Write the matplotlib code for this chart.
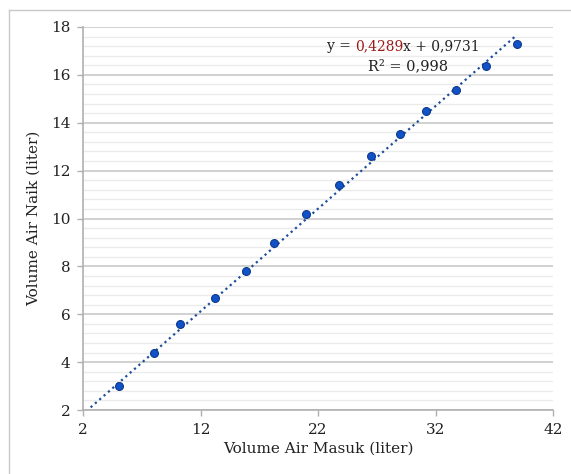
import matplotlib
matplotlib.use("Agg")
import matplotlib.pyplot as plt
import numpy as np
from matplotlib.ticker import MultipleLocator

x_vals = [5.06, 8.04, 10.26, 13.23, 15.87, 18.26, 21.0, 23.8, 26.55, 28.98, 31.2, 33.75, 36.3, 38.94]
y_vals = [3.0, 4.38, 5.6, 6.68, 7.8, 8.98, 10.2, 11.4, 12.6, 13.53, 14.5, 15.37, 16.35, 17.3]
slope = 0.4289
intercept = 0.9731
r2 = 0.998
trend_start = 2.65
x_ticks = [2, 12, 22, 32, 42]
y_ticks = [2, 4, 6, 8, 10, 12, 14, 16, 18]

plt.rcParams['font.family'] = ['DejaVu Serif']
fig = plt.figure(figsize=(5.71, 4.74), dpi=100)
ax = fig.add_axes([83/571, 1-410/474, (553-83)/571, (410-27)/474])

grey_major = '#c9c9c9'
grey_minor = '#ebebeb'
ax.set_xlim(2, 42)
ax.set_ylim(2, 18)
ax.set_xticks(x_ticks)
ax.set_yticks(y_ticks)
ax.yaxis.set_minor_locator(MultipleLocator(0.4))
ax.grid(axis='y', which='major', color=grey_major, lw=1.2)
ax.grid(axis='y', which='minor', color=grey_minor, lw=1.0)
ax.set_axisbelow(True)
for s in ['top', 'right']:
    ax.spines[s].set_visible(False)
for s in ['left', 'bottom']:
    ax.spines[s].set_color('#b0b0b0')
    ax.spines[s].set_linewidth(1.2)
ax.tick_params(which='major', direction='out', length=4, width=1, color='#b0b0b0',
               labelsize=11, labelcolor='#222222', pad=5)
ax.tick_params(which='minor', length=0)

xt = np.array([trend_start, max(x_vals)])
ax.plot(xt, slope*xt + intercept, linestyle=(0, (1, 1.6)), color='#1f4e9a', lw=1.6, zorder=2)
ax.scatter(x_vals, y_vals, s=32, color='#1152c8', edgecolors='#0b3a8c', linewidths=0.8, zorder=3)

ax.set_xlabel('Volume Air Masuk (liter)', fontsize=11, color='#222222', labelpad=4)
ax.set_ylabel('Volume Air Naik (liter)', fontsize=11, color='#222222', labelpad=7)

fs = 10
t1 = ax.text(0.519, 0.94, 'y = ', transform=ax.transAxes, fontsize=fs, color='#222222', va='baseline')
t2 = ax.annotate('0,4289', xy=(1, 0), xycoords=t1, fontsize=fs, color='#9b1b1b', va='bottom')
t3 = ax.annotate('x + 0,9731', xy=(1, 0), xycoords=t2, fontsize=fs, color='#222222', va='bottom')
ax.text(0.607, 0.888, 'R² = 0,998', transform=ax.transAxes, fontsize=10.5, color='#222222', va='baseline')

fig.lines.append(plt.Line2D([9/571, 9/571], [-0.01, 1-10/474], transform=fig.transFigure, color='#c8c8c8', lw=1))
fig.lines.append(plt.Line2D([9/571, 1.01], [1-10/474, 1-10/474], transform=fig.transFigure, color='#c8c8c8', lw=1))

fig.savefig('out.png', dpi=100)
